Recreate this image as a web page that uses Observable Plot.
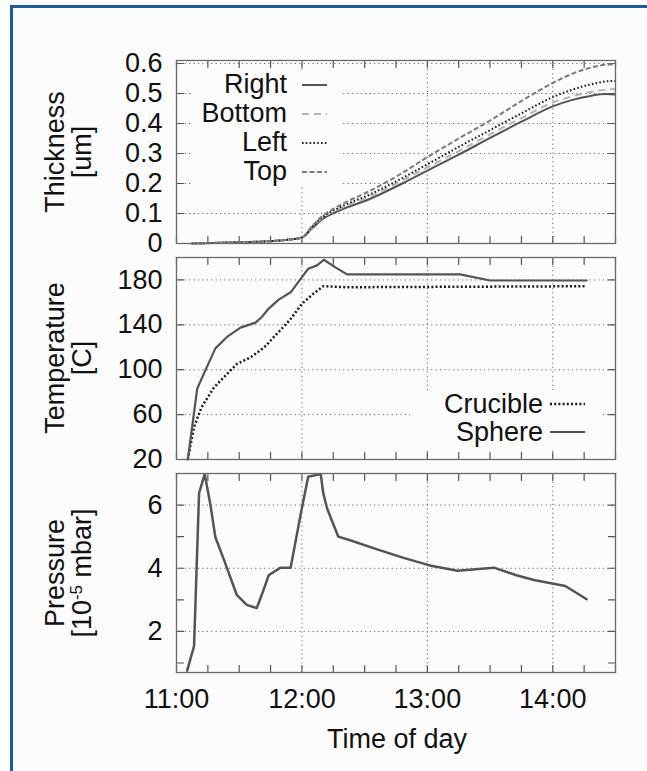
<!DOCTYPE html>
<html>
<head>
<meta charset="utf-8">
<script src="https://cdn.jsdelivr.net/npm/d3@7"></script>
<script src="https://cdn.jsdelivr.net/npm/@observablehq/plot@0.6"></script>
<style>
  html, body { margin: 0; padding: 0; background: #fff; }
  #wrap { position: relative; width: 647px; height: 771px; overflow: hidden; background: #fff;
          font-family: "Liberation Sans", Arial, Helvetica, sans-serif; color: #111; }
  #panel { position: absolute; left: 10px; top: 5px; width: 637px; height: 766px;
           border-left: 3px solid #1d5b9b; border-top: 3px solid #1d5b9b; background: #fcfcfc; box-sizing: border-box; }
  .plot { position: absolute; left: 0; }
  .ylab { position: absolute; width: 220px; height: 54px; line-height: 27px; font-size: 27px;
          text-align: center; transform: rotate(-90deg); transform-origin: 50% 50%; white-space: nowrap; }
  .ylab sup { font-size: 17px; line-height: 0; vertical-align: 9px; }
  .legend { position: absolute; background: #fcfcfc; font-size: 27px; }
  .legend .row { display: flex; align-items: center; }
  .legend .lt { text-align: right; white-space: nowrap; }
  #xlab { position: absolute; left: 297px; top: 726px; width: 200px; text-align: center; font-size: 27px; line-height: 27px; }
</style>
</head>
<body>
<div id="wrap">
  <div id="panel"></div>
  <div id="p1" class="plot" style="top:0px"></div>
  <div id="p2" class="plot" style="top:250px"></div>
  <div id="p3" class="plot" style="top:465px"></div>

  <div class="ylab" style="left:-41px; top:125px">Thickness<br>[um]</div>
  <div class="ylab" style="left:-41px; top:331px">Temperature<br>[C]</div>
  <div class="ylab" style="left:-41px; top:546px">Pressure<br>[10<sup>-5</sup> mbar]</div>
  <div id="xlab">Time of day</div>

  <div id="leg1" class="legend" style="left:193px; top:70px; width:147px;"></div>
  <div id="leg2" class="legend" style="left:410px; top:390px; width:190px; height:58px;"></div>
</div>
<script>
// ---------------- data ----------------
const xDomain = [11, 14.5];
const xMajorTicks = [11, 12, 13, 14];
const xMinorTicks = [11, 11.25, 11.5, 11.75, 12, 12.25, 12.5, 12.75, 13, 13.25, 13.5, 13.75, 14, 14.25, 14.5];

// Thickness panel (um)
const thickHours  = [11.12, 11.3, 11.5, 11.7, 11.85, 12.0, 12.08, 12.17, 12.3, 12.55, 12.8, 13.0, 13.25, 13.5, 13.75, 14.0, 14.15, 14.3, 14.42, 14.5];
const thickRight  = [0, 0.002, 0.004, 0.007, 0.011, 0.02, 0.05, 0.083, 0.11, 0.15, 0.2, 0.243, 0.296, 0.352, 0.406, 0.457, 0.478, 0.492, 0.498, 0.497];
const thickBottom = [0, 0.002, 0.004, 0.007, 0.011, 0.02, 0.053, 0.087, 0.116, 0.158, 0.21, 0.254, 0.308, 0.364, 0.418, 0.47, 0.49, 0.505, 0.513, 0.515];
const thickLeft   = [0, 0.002, 0.004, 0.007, 0.011, 0.02, 0.055, 0.09, 0.12, 0.165, 0.218, 0.264, 0.322, 0.378, 0.434, 0.488, 0.512, 0.53, 0.54, 0.542];
const thickTop    = [0, 0.002, 0.004, 0.007, 0.011, 0.02, 0.058, 0.094, 0.127, 0.177, 0.235, 0.288, 0.35, 0.41, 0.475, 0.535, 0.565, 0.586, 0.596, 0.598];
const thickDomain = [0, 0.61];
const thickTicks  = [0, 0.1, 0.2, 0.3, 0.4, 0.5, 0.6];
const thickGrid   = [0.1, 0.2, 0.3, 0.4, 0.5, 0.6];
const thickSeries = ["Right", "Bottom", "Left", "Top"];

// Temperature panel (C)
const sphereHours = [11.09, 11.165, 11.22, 11.31, 11.40, 11.51, 11.63, 11.68, 11.735, 11.815, 11.91, 11.99, 12.05, 12.12, 12.175, 12.27, 12.36, 13.26, 13.5, 14.27];
const sphereTemp  = [20, 83, 97, 119, 129, 137.5, 142, 147, 154.5, 162.5, 169, 181, 190, 193, 198, 191, 185, 185, 179.5, 179.5];
const crucHours   = [11.09, 11.14, 11.2, 11.3, 11.39, 11.48, 11.59, 11.7, 11.8, 11.9, 12.0, 12.09, 12.17, 12.36, 14.27];
const crucTemp    = [20, 49, 66.6, 84.4, 94.8, 105, 111, 120, 132, 143.8, 158.7, 167.6, 174.4, 173.5, 174.4];
const tempDomain  = [20, 200];
const tempTicks   = [20, 60, 100, 140, 180];
const tempGrid    = [60, 100, 140, 180];

// Pressure panel (1e-5 mbar)
const presHours = [11.085, 11.14, 11.18, 11.225, 11.27, 11.31, 11.38, 11.48, 11.56, 11.64, 11.68, 11.735, 11.83, 11.91, 11.99, 12.05, 12.15, 12.17, 12.2, 12.29, 12.39, 12.6, 12.81, 13.02, 13.24, 13.53, 13.71, 13.85, 14.1, 14.27];
const presVals  = [0.76, 1.54, 6.38, 6.98, 6.02, 4.98, 4.25, 3.16, 2.84, 2.74, 3.16, 3.78, 4.02, 4.02, 5.71, 6.9, 6.98, 6.38, 5.9, 5.0, 4.88, 4.6, 4.33, 4.09, 3.92, 4.02, 3.78, 3.63, 3.44, 3.02];
const presDomain = [0.7, 7];
const presTicks  = [1, 2, 3, 4, 5, 6, 7];
const presLabels = [2, 4, 6];

// ---------------- styles ----------------
const FONT = '"Liberation Sans", Arial, Helvetica, sans-serif';
const thickStyle = {
  Right:  {stroke: "#545454", dash: null,      width: 2},
  Bottom: {stroke: "#b4b4b4", dash: "7,5",     width: 2},
  Left:   {stroke: "#1a1a1a", dash: "1.6,2.2", width: 2},
  Top:    {stroke: "#7a7a7a", dash: "5,2.5",   width: 2}
};
const tempStyle = {
  Crucible: {stroke: "#1a1a1a", dash: "2,2.2", width: 2.5},
  Sphere:   {stroke: "#545454", dash: null,    width: 2.2}
};

const gridStyle = {stroke: "#555", strokeOpacity: 0.9, strokeWidth: 1, strokeDasharray: "1.2,3.2"};
const TICK_LEN = 7;
const tickShape = {draw(context, l) { context.moveTo(0, 0); context.lineTo(0, -l); }};
const tickOpts = {length: TICK_LEN, anchor: "start", shape: tickShape, stroke: "#555", strokeWidth: 1.2};

function frameMarks(yTicks, yLabels, yGrid, showX) {
  return [
    Plot.gridX(xMajorTicks.slice(1), gridStyle),
    Plot.gridY(yGrid, gridStyle),
    // inward tick marks on all four sides
    Plot.vector(xMinorTicks, {x: d => d, frameAnchor: "bottom", rotate: 0, ...tickOpts}),
    Plot.vector(xMinorTicks, {x: d => d, frameAnchor: "top", rotate: 180, ...tickOpts}),
    Plot.vector(yTicks, {y: d => d, frameAnchor: "left", rotate: 90, ...tickOpts}),
    Plot.vector(yTicks, {y: d => d, frameAnchor: "right", rotate: 270, ...tickOpts}),
    Plot.axisY(yLabels, {anchor: "left", tickSize: 0, tickPadding: 14, label: null, tickFormat: d => String(d), fill: "#111"}),
    showX ? Plot.axisX(xMajorTicks, {anchor: "bottom", tickSize: 0, tickPadding: 16, label: null, tickFormat: d => d + ":00", fill: "#111"}) : Plot.axisX([], {label: null, tickSize: 0})
  ];
}

const common = {
  width: 647, marginLeft: 176, marginRight: 32,
  x: {domain: xDomain},
  style: {fontFamily: FONT, fontSize: "27px", background: "transparent", color: "#111", overflow: "visible"}
};

// ---------- Panel 1: thickness ----------
const thickData = [];
thickSeries.forEach((s, k) => {
  const vals = [thickRight, thickBottom, thickLeft, thickTop][k];
  thickHours.forEach((h, i) => thickData.push({series: s, h, v: vals[i]}));
});
const p1 = Plot.plot({
  ...common, height: 250, marginTop: 60, marginBottom: 7,
  y: {domain: thickDomain},
  marks: [
    ...frameMarks(thickTicks, thickTicks, thickGrid, false),
    ...thickSeries.map(s => Plot.line(thickData.filter(d => d.series === s), {
      x: "h", y: "v", stroke: thickStyle[s].stroke, strokeWidth: thickStyle[s].width,
      strokeDasharray: thickStyle[s].dash, strokeLinecap: "butt", curve: "monotone-x"
    })),
    Plot.frame({stroke: "#6a6a6a", strokeWidth: 1.3})
  ]
});
document.getElementById("p1").appendChild(p1);

// ---------- Panel 2: temperature ----------
const sphereData = sphereHours.map((h, i) => ({h, v: sphereTemp[i]}));
const crucData = crucHours.map((h, i) => ({h, v: crucTemp[i]}));
const p2 = Plot.plot({
  ...common, height: 215, marginTop: 7, marginBottom: 6,
  y: {domain: tempDomain},
  marks: [
    ...frameMarks(tempTicks, tempTicks, tempGrid, false),
    Plot.line(crucData, {x: "h", y: "v", stroke: tempStyle.Crucible.stroke, strokeWidth: tempStyle.Crucible.width, strokeDasharray: tempStyle.Crucible.dash, strokeLinecap: "butt"}),
    Plot.line(sphereData, {x: "h", y: "v", stroke: tempStyle.Sphere.stroke, strokeWidth: tempStyle.Sphere.width}),
    Plot.frame({stroke: "#6a6a6a", strokeWidth: 1.3})
  ]
});
document.getElementById("p2").appendChild(p2);

// ---------- Panel 3: pressure ----------
const presData = presHours.map((h, i) => ({h, v: presVals[i]}));
const p3 = Plot.plot({
  ...common, height: 306, marginTop: 8, marginBottom: 99,
  y: {domain: presDomain},
  marks: [
    ...frameMarks(presTicks, presLabels, presLabels, true),
    Plot.line(presData, {x: "h", y: "v", stroke: "#545454", strokeWidth: 2.5, clip: true}),
    Plot.frame({stroke: "#6a6a6a", strokeWidth: 1.3})
  ]
});
document.getElementById("p3").appendChild(p3);

// ---------- Legends ----------
function sample(st, w) {
  const dash = st.dash ? ` stroke-dasharray="${st.dash}"` : "";
  return `<svg width="${w}" height="10" style="display:block"><line x1="0" y1="5" x2="${w}" y2="5" stroke="${st.stroke}" stroke-width="${st.width}"${dash}/></svg>`;
}
document.getElementById("leg1").innerHTML = thickSeries.map(s =>
  `<div class="row" style="height:29px"><div class="lt" style="width:94px">${s}</div><div style="width:15px"></div>${sample(thickStyle[s], 25)}</div>`
).join("");
document.getElementById("leg2").innerHTML = ["Crucible", "Sphere"].map(s =>
  `<div class="row" style="height:28px"><div class="lt" style="width:133px">${s}</div><div style="width:7px"></div>${sample(tempStyle[s], 35)}</div>`
).join("");
</script>
</body>
</html>
